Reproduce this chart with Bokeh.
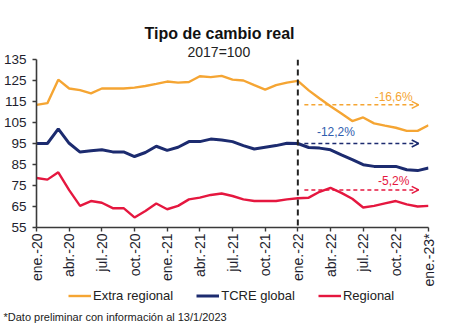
import math
from bokeh.plotting import figure
from bokeh.layouts import column
from bokeh.models import (Range1d, FixedTicker, Span, Label, Arrow, OpenHead,
                          Legend, LegendItem, Title)
from bokeh.embed import file_html
from bokeh.resources import INLINE

# ---- data ----
months = list(range(37))  # ene-2020 .. ene-2023
extra_regional = [113.4, 114.2, 125.4, 121.2, 120.4, 118.9, 121.2, 121.2, 121.2, 121.6,
                  122.4, 123.4, 124.5, 124.0, 124.3, 127.0, 126.6, 127.2, 125.4, 125.0,
                  122.8, 120.7, 122.8, 124.0, 124.8, 120.3, 116.4, 112.7, 109.3, 105.7,
                  107.4, 104.6, 103.5, 102.5, 101.0, 101.0, 103.7]
tcre_global = [95.0, 95.0, 102.0, 95.1, 90.9, 91.5, 92.0, 91.0, 91.0, 88.8,
               90.7, 93.7, 91.7, 93.2, 95.9, 95.9, 97.1, 96.7, 95.9, 94.0,
               92.4, 93.2, 94.0, 95.1, 95.0, 93.1, 92.8, 92.0, 89.6, 87.3,
               84.9, 84.1, 84.1, 84.1, 82.5, 82.1, 83.3]
regional = [78.6, 77.8, 81.3, 72.8, 65.3, 67.6, 66.8, 64.2, 64.2, 59.8,
            62.9, 66.4, 63.7, 65.3, 68.4, 69.2, 70.5, 71.2, 70.0, 68.4,
            67.6, 67.6, 67.6, 68.4, 68.9, 69.2, 72.0, 73.9, 71.5, 68.7,
            64.5, 65.3, 66.5, 67.6, 66.0, 65.0, 65.3]
tick_months = [0, 3, 6, 9, 12, 15, 18, 21, 24, 27, 30, 33, 36]
tick_labels = ["ene.-20", "abr.-20", "jul.-20", "oct.-20", "ene.-21", "abr.-21",
               "jul.-21", "oct.-21", "ene.-22", "abr.-22", "jul.-22", "oct.-22", "ene.-23*"]
y_ticks = [55, 65, 75, 85, 95, 105, 115, 125, 135]
series_names = ["Extra regional", "TCRE global", "Regional"]
change_labels = ["-16,6%", "-12,2%", "-5,2%"]
ref_month = 24

C_OR = "#F5A533"
C_BL = "#1C2B6F"
C_RD = "#E5173F"
FONT = "Liberation Sans"

# ---------------- main chart ----------------
p1 = figure(width=450, height=289, x_range=Range1d(0, 36), y_range=Range1d(55, 135),
            min_border_left=35, min_border_right=22, min_border_top=59, min_border_bottom=60,
            toolbar_location=None, output_backend="svg")
p1.outline_line_color = None
p1.xgrid.visible = False
p1.ygrid.visible = False
p1.title.visible = False

p1.xaxis.ticker = FixedTicker(ticks=tick_months)
p1.xaxis.major_label_overrides = {m: l for m, l in zip(tick_months, tick_labels)}
p1.xaxis.major_label_orientation = math.pi / 2
p1.yaxis.ticker = FixedTicker(ticks=y_ticks)
for ax in (p1.xaxis, p1.yaxis):
    ax.axis_line_color = "#3a3a3a"
    ax.axis_line_width = 1.6
    ax.major_tick_line_color = "#3a3a3a"
    ax.major_tick_line_width = 1.4
    ax.major_tick_in = 0
    ax.major_tick_out = 4
    ax.minor_tick_line_color = None
    ax.major_label_text_font = FONT
    ax.major_label_text_color = "#1e1e2e"
p1.xaxis.major_label_text_font_size = "14px"
p1.xaxis.major_label_standoff = 2
p1.yaxis.major_label_text_font_size = "13.5px"
p1.yaxis.major_label_standoff = 6

p1.line(months, extra_regional, line_color=C_OR, line_width=2.4)
p1.line(months, tcre_global, line_color=C_BL, line_width=3)
p1.line(months, regional, line_color=C_RD, line_width=2.4)

p1.add_layout(Span(location=ref_month, dimension="height", line_color="#222222",
                   line_width=2, line_dash="6 4"))

arrow_specs = [(extra_regional[0], C_OR), (tcre_global[0], C_BL), (72.9, C_RD)]
for yv, c in arrow_specs:
    p1.add_layout(Arrow(x_start=24.6, y_start=yv, x_end=35.1, y_end=yv,
                        line_color=c, line_width=1.5, line_dash="4 3",
                        end=OpenHead(size=7, line_color=c, line_width=1.5)))

label_specs = [(32.8, 117.2, change_labels[0], C_OR),
               (27.5, 100.3, change_labels[1], "#2F5DAE"),
               (32.8, 77.2, change_labels[2], C_RD)]
for xv, yv, t, c in label_specs:
    p1.add_layout(Label(x=xv, y=yv, text=t, text_color=c, text_font=FONT,
                        text_font_size="12px", text_align="center", text_baseline="middle"))

p1.add_layout(Title(text="2017=100", text_font=FONT, text_font_size="14px",
                    text_font_style="normal", text_color="#222222",
                    align="left", offset=151, standoff=0), "above")
p1.add_layout(Title(text="Tipo de cambio real", text_font=FONT, text_font_size="16px",
                    text_font_style="bold", text_color="#111111",
                    align="left", offset=108, standoff=0), "above")

# ---------------- footer: legend + note ----------------
p2 = figure(width=450, height=37, x_range=Range1d(0, 36), y_range=Range1d(0, 1),
            min_border_left=35, min_border_right=22, min_border_top=0, min_border_bottom=20,
            x_axis_type=None, y_axis_type=None,
            toolbar_location=None, output_backend="svg")
p2.outline_line_color = None
p2.xgrid.visible = False
p2.ygrid.visible = False
p2.title.visible = False

# same series, outside this panel's visible range: they only feed the legend glyphs
d1 = p2.line(months, extra_regional, line_color=C_OR, line_width=2.4)
d2 = p2.line(months, tcre_global, line_color=C_BL, line_width=3)
d3 = p2.line(months, regional, line_color=C_RD, line_width=2.4)

legend = Legend(items=[LegendItem(label=series_names[0], renderers=[d1]),
                       LegendItem(label=series_names[1], renderers=[d2]),
                       LegendItem(label=series_names[2], renderers=[d3])],
                orientation="horizontal", location=(32, 3),
                padding=0, margin=0, spacing=23, label_standoff=2,
                glyph_width=23, glyph_height=15, label_height=15,
                label_text_font=FONT, label_text_font_size="13px",
                label_text_color="#222222",
                border_line_alpha=0, background_fill_alpha=0)
p2.add_layout(legend, "center")

p2.add_layout(Title(text="*Dato preliminar con información al 13/1/2023",
                    text_font=FONT, text_font_size="11px", text_font_style="normal",
                    text_color="#222222", align="left", offset=-33, standoff=4), "below")

p = column(p1, p2, spacing=0)
open("out.html", "w").write(file_html(p, INLINE))
